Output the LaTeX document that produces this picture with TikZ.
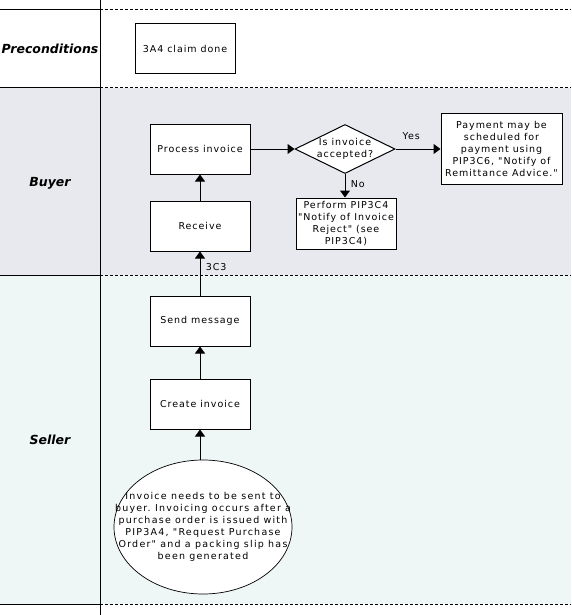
\documentclass[tikz,border=0pt]{standalone}
\usepackage{fontspec}
\setmainfont{DejaVu Sans}
\newfontfamily\diagfont[LetterSpace=10]{DejaVu Sans}
\newfontfamily\ellfont[LetterSpace=13]{DejaVu Sans}
\usetikzlibrary{arrows.meta,shapes.geometric}
\definecolor{buyerfill}{HTML}{E7E9EE}
\definecolor{sellerfill}{HTML}{EFF6F6}
\frenchspacing
\begin{document}
\begin{tikzpicture}[x=1pt,y=-1pt,
  txt/.style={font=\diagfont\fontsize{9.5}{12}\selectfont, align=center},
  box/.style={txt, draw=black, line width=1pt, fill=white, minimum width=100pt, minimum height=50pt, inner sep=0pt},
  lane/.style={font=\fontsize{12.5}{14}\selectfont\bfseries\itshape},
  flow/.style={line width=1pt, -{Triangle[length=7pt,width=10pt]}},
  sep/.style={line width=1pt},
  dsep/.style={line width=1pt, dash pattern=on 3pt off 2pt}]
\useasboundingbox (0,0) rectangle (571,615);
\fill[buyerfill] (0,88) rectangle (571,275);
\fill[sellerfill] (0,275) rectangle (571,604);
\foreach \yy in {10,88,275,604} {
  \draw[sep] (0,\yy) -- (100,\yy);
  \draw[dsep] (100,\yy) -- (571,\yy);
}
\draw[sep] (100,0) -- (100,615);
\node[lane] (lpre) at (50,49) {Preconditions};
\node[lane] (lbuy) at (50,183) {Buyer};
\node[lane] (lsel) at (50,440) {Seller};
\node[box] (claim) at (185,49) {3A4 claim done};
\node[box] (proc) at (200,149) {Process invoice};
\node[box] (recv) at (200,226) {Receive};
\node[box] (send) at (200,321) {Send message};
\node[box] (create) at (200,404) {Create invoice};
\node[draw=black, line width=0.7pt, fill=white, ellipse, minimum width=178pt, minimum height=134pt, inner sep=0pt] (need) at (203,527) {};
\node[txt, font=\ellfont\fontsize{9.5}{12}\selectfont] (needtxt) at (need.center)
  {Invoice needs to be sent to\\buyer. Invoicing occurs after a\\purchase order is issued with\\PIP3A4, "Request Purchase\\Order" and a packing slip has\\been generated};
\node[draw=black, line width=1pt, fill=white, diamond, minimum width=100pt, minimum height=49pt, inner sep=0pt] (dec) at (345,149) {};
\node[txt] (dectxt) at (dec.center) {Is invoice\\accepted?};
\node[box, minimum width=121pt, minimum height=70pt] (pay) at (501.5,149)
  {Payment may be\\scheduled for\\payment using\\PIP3C6, "Notify of\\Remittance Advice."};
\node[box, minimum height=51pt] (rej) at (346,223.5)
  {Perform PIP3C4\\"Notify of Invoice\\Reject" (see\\PIP3C4)};
\draw[flow] (need.north -| create.south) -- (create.south);
\draw[flow] (create) -- (send);
\draw[flow] (send) -- node[txt, right, pos=0.5, yshift=6.5pt, xshift=2pt] (lc3) {3C3} (recv);
\draw[flow] (recv) -- (proc);
\draw[flow] (proc) -- (dec.west);
\draw[flow] (dec.east) -- node[txt, above, pos=0.35, yshift=6pt] (lyes) {Yes} (pay.west |- dec.east);
\draw[flow] (dec.south) -- node[txt, right, xshift=2pt, yshift=2pt] (lno) {No} (dec.south |- rej.north);
\end{tikzpicture}
\end{document}
